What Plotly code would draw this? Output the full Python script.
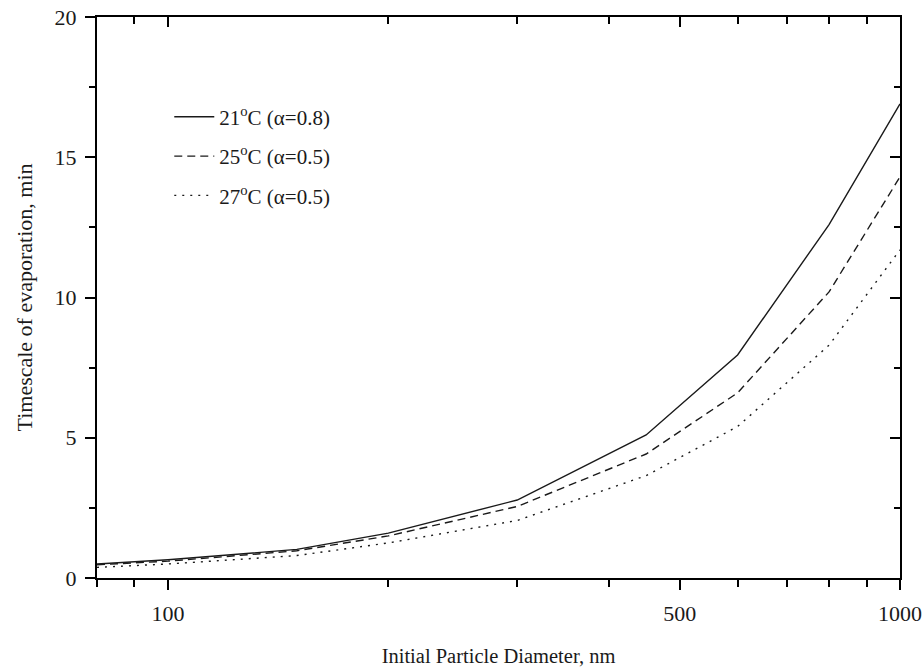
import math
import plotly.graph_objects as go

# ---- data ----
diameter_nm = [80, 100, 150, 200, 300, 450, 600, 800, 1000]
t21_alpha08 = [0.50, 0.65, 1.02, 1.60, 2.78, 5.10, 7.95, 12.6, 16.9]
t25_alpha05 = [0.47, 0.60, 0.97, 1.50, 2.55, 4.42, 6.60, 10.2, 14.3]
t27_alpha05 = [0.38, 0.50, 0.80, 1.25, 2.05, 3.65, 5.40, 8.3, 11.7]

series_names = ["21<sup>o</sup>C (α=0.8)", "25<sup>o</sup>C (α=0.5)", "27<sup>o</sup>C (α=0.5)"]
series_values = [t21_alpha08, t25_alpha05, t27_alpha05]
series_dash = ["solid", "8px,5px", "2px,6px"]

x_major = [100, 500, 1000]
x_major_text = ["100", "500", "1000"]
x_minor = [80, 90, 200, 300, 400, 600, 700, 800, 900]
y_major = [0, 5, 10, 15, 20]
y_minor = [2.5, 7.5, 12.5, 17.5]

FONT = "Liberation Serif"
INK = "#1a1a1a"

fig = go.Figure()
for i, (name, vals, dash) in enumerate(zip(series_names, series_values, series_dash)):
    fig.add_trace(go.Scatter(
        x=diameter_nm, y=vals, mode="lines", name=name,
        legendgroup=f"g{i}",
        line=dict(color=INK, width=1.4, dash=dash),
    ))

# invisible trace to hold the mirrored top/right axes
fig.add_trace(go.Scatter(x=diameter_nm, y=t21_alpha08, xaxis="x2", yaxis="y2",
                         mode="lines", line=dict(width=0, color="rgba(0,0,0,0)"),
                         showlegend=False, hoverinfo="skip"))

xrange = [math.log10(80), math.log10(1000)]

common_x = dict(type="log", range=xrange, showgrid=False, zeroline=False,
                showline=True, linecolor="black", linewidth=2, automargin=False,
                tickvals=x_major, ticktext=x_major_text, tickwidth=2,
                tickcolor="black",
                minor=dict(tickvals=x_minor, ticklen=7, tickwidth=2,
                           tickcolor="black", showgrid=False))
common_y = dict(range=[0, 20], showgrid=False, zeroline=False,
                showline=True, linecolor="black", linewidth=2, automargin=False,
                tickvals=y_major, tickwidth=2, tickcolor="black",
                minor=dict(tickvals=y_minor, ticklen=6, tickwidth=2,
                           tickcolor="black", showgrid=False))

fig.update_layout(
    template="none",
    width=923, height=669,
    margin=dict(l=97, r=23, t=17, b=91, autoexpand=False),
    paper_bgcolor="white", plot_bgcolor="white",
    font=dict(family=FONT, size=21, color=INK),
    showlegend=True,
    legend=dict(x=0.09, y=0.858, xanchor="left", yanchor="top",
                bgcolor="rgba(0,0,0,0)", font=dict(family=FONT, size=21, color=INK),
                tracegroupgap=9, itemwidth=40),
    xaxis=dict(**common_x, ticks="outside", ticklen=10, showticklabels=True,
               ticklabelstandoff=5,
               tickfont=dict(family=FONT, size=22, color=INK),
               title=dict(text="Initial Particle Diameter, nm", standoff=23,
                          font=dict(family=FONT, size=20.5, color=INK))),
    yaxis=dict(**common_y, ticks="outside", ticklen=10, showticklabels=True,
               ticklabelstandoff=4,
               tickfont=dict(family=FONT, size=22, color=INK),
               title=dict(text="Timescale of evaporation, min", standoff=16,
                          font=dict(family=FONT, size=22, color=INK))),
    xaxis2=dict(**common_x, overlaying="x", side="top", anchor="y",
                ticks="inside", ticklen=10, showticklabels=False),
    yaxis2=dict(**common_y, overlaying="y", side="right", anchor="x",
                ticks="inside", ticklen=10, showticklabels=False),
)
fig.update_layout(xaxis2_minor_ticks="inside", yaxis2_minor_ticks="inside",
                  xaxis_minor_ticks="outside", yaxis_minor_ticks="outside")

fig.write_html("out.html", config={"displayModeBar": False},
               post_script="document.body.style.margin='0';document.body.style.padding='0';")
